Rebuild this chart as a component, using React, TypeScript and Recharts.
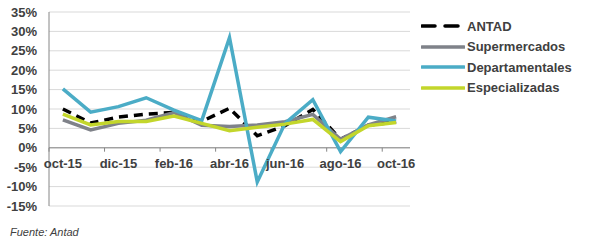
import { LineChart, Line, XAxis, YAxis, CartesianGrid, ReferenceLine, Legend } from "recharts";

const months = ["oct-15", "nov-15", "dic-15", "ene-16", "feb-16", "mar-16", "abr-16", "may-16", "jun-16", "jul-16", "ago-16", "sep-16", "oct-16"];
const antad = [10.0, 6.4, 7.9, 8.7, 9.1, 6.8, 10.2, 3.1, 5.7, 9.9, 2.2, 5.8, 6.7];
const supermercados = [7.2, 4.6, 6.3, 7.1, 9.1, 5.8, 5.5, 5.9, 6.7, 8.6, 2.2, 5.9, 8.0];
const departamentales = [15.2, 9.2, 10.6, 12.9, 9.7, 7.0, 28.4, -8.8, 6.3, 12.4, -1.0, 7.9, 6.9];
const especializadas = [8.7, 5.9, 6.8, 6.8, 8.2, 6.3, 4.4, 5.3, 6.1, 7.3, 1.6, 5.7, 6.5];
const yTicks = [-15, -10, -5, 0, 5, 10, 15, 20, 25, 30, 35];
const labelTicks = [0.5, 2.5, 4.5, 6.5, 8.5, 10.5, 12.5];
const boundaryTicks = [0, 2, 4, 6, 8, 10, 12];

const series = [
  { key: "antad", name: "ANTAD", color: "#000000", dash: "9 6" },
  { key: "super", name: "Supermercados", color: "#7f8289", dash: undefined },
  { key: "depto", name: "Departamentales", color: "#4bacc6", dash: undefined },
  { key: "espec", name: "Especializadas", color: "#c3d62b", dash: undefined },
];

const data = months.map((m, i) => ({
  pos: i + 0.5,
  month: m,
  antad: antad[i],
  super: supermercados[i],
  depto: departamentales[i],
  espec: especializadas[i],
}));

const FONT = "'Liberation Sans', Arial, sans-serif";
const TEXT = "#404040";

function MonthTick(props: any) {
  const { x, y, payload } = props;
  return (
    <text x={x} y={y - 46} textAnchor="middle" fill={TEXT} fontSize={13} fontWeight="bold" fontFamily={FONT}>
      {months[Math.floor(payload.value)]}
    </text>
  );
}

function LegendBox() {
  return (
    <div style={{ fontFamily: FONT, fontSize: 13, fontWeight: "bold", color: TEXT }}>
      {series.map((s) => (
        <div key={s.key} style={{ display: "flex", alignItems: "center", height: 20.5 }}>
          <svg width={44} height={8}>
            <line x1={1} y1={4} x2={43} y2={4} stroke={s.color} strokeWidth={3.5} strokeDasharray={s.dash ? "13 10" : undefined} strokeLinecap="round" />
          </svg>
          <span style={{ marginLeft: 2 }}>{s.name}</span>
        </div>
      ))}
    </div>
  );
}

export default function App() {
  return (
    <div style={{ position: "absolute", left: 0, top: 0, width: 591, height: 245, background: "#fff" }}>
      <LineChart width={591} height={245} data={data} margin={{ top: 12, right: 11, bottom: 0, left: 0 }}>
        <CartesianGrid vertical={false} stroke="#d9d9d9" />
        <XAxis
          dataKey="pos"
          type="number"
          domain={[0, 13]}
          ticks={labelTicks}
          axisLine={false}
          tickLine={false}
          height={39}
          tick={<MonthTick />}
          interval={0}
        />
        <YAxis
          type="number"
          domain={[-15, 35]}
          ticks={yTicks}
          width={49}
          tickFormatter={(v) => `${v}%`}
          axisLine={{ stroke: "#868686" }}
          tickLine={false}
          tickMargin={6}
          tick={{ fill: TEXT, fontSize: 13, fontWeight: "bold", fontFamily: FONT }}
          interval={0}
        />
        <ReferenceLine y={0} stroke="#868686" />
        {boundaryTicks.map((b) => (
          <ReferenceLine key={b} segment={[{ x: b, y: 0 }, { x: b, y: -1 }]} stroke="#868686" />
        ))}
        <Legend
          layout="vertical"
          verticalAlign="top"
          align="right"
          content={<LegendBox />}
          wrapperStyle={{ left: 421, top: 16, width: 170 }}
        />
        {series.map((s) => (
          <Line
            key={s.key}
            dataKey={s.key}
            name={s.name}
            stroke={s.color}
            strokeWidth={3.5}
            strokeDasharray={s.dash}
            dot={false}
            isAnimationActive={false}
            type="linear"
          />
        ))}
      </LineChart>
      <div style={{ position: "absolute", left: 10, top: 226, fontFamily: FONT, fontSize: 11, fontStyle: "italic", color: TEXT }}>
        Fuente: Antad
      </div>
    </div>
  );
}
